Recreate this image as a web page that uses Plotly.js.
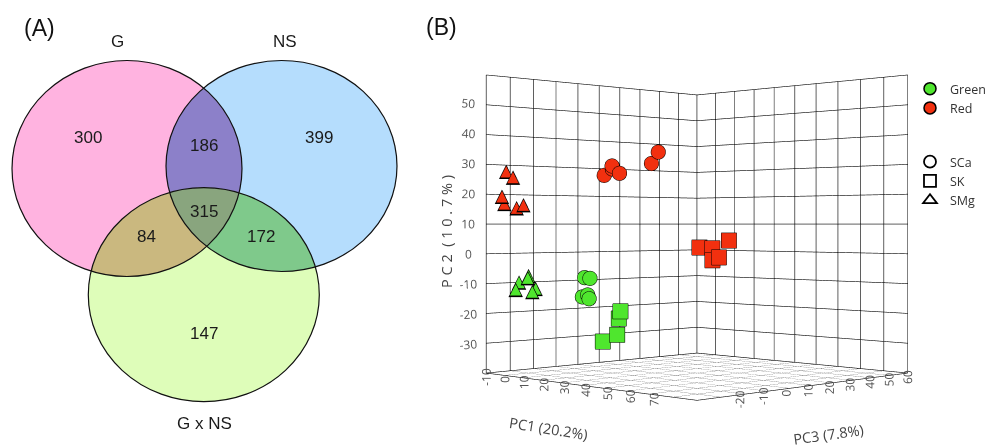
<!DOCTYPE html>
<html><head><meta charset="utf-8">
<script src="https://cdn.plot.ly/plotly-3.0.1.min.js"></script>
<style>
html,body{margin:0;padding:0;overflow:hidden;background:#fff;width:987px;height:447px;}
#wrap{position:absolute;left:0;width:987px;}
</style>
</head><body><div id="wrap"></div>
<script>
// ---------------- DATA ----------------
// Venn diagram (A)
const vennSetNames = ['G', 'NS', 'G x NS'];
const vennRegionMasks = [[1,0,0],[0,1,0],[0,0,1],[1,1,0],[1,0,1],[0,1,1],[1,1,1]];
const vennCounts = [300, 399, 147, 186, 84, 172, 315];

// PCA scores (B): PC1, PC2, PC3 for each colour x salt group
const greenSCa_pc1 = [19.0, 22.8, 16.7, 20.5, 22.4];
const greenSCa_pc2 = [-7.1, -7.2, -13.4, -12.6, -13.7];
const greenSCa_pc3 = [-20, -21, -19, -20, -21];
const greenSK_pc1 = [36.2, 34.3, 34.7, 29.0];
const greenSK_pc2 = [-17.1, -19.5, -24.5, -26.9];
const greenSK_pc3 = [-20, -19, -20, -21];
const greenSMg_pc1 = [-8.7, -4.9, -4.0, -9.2, -1.6, -1.1];
const greenSMg_pc2 = [-9.4, -7.2, -7.8, -11.8, -12.3, -11.3];
const greenSMg_pc3 = [-25, -24, -25, -26, -25, -24];
const redSCa_pc1 = [22.8, 25.6, 26.6, 31.3, 45.0, 47.0];
const redSCa_pc2 = [25.7, 27.7, 28.6, 26.1, 28.8, 32.3];
const redSCa_pc3 = [-15, -14, -15, -16, -15, -14];
const redSK_pc1 = [51.0, 55.7, 56.7, 60.5, 63.8];
const redSK_pc2 = [2.7, 2.5, -1.2, -0.2, 5.0];
const redSK_pc3 = [0, 1, 0, -1, 0];
const redSMg_pc1 = [-15.7, -13.3, -16.7, -16.7, -10.0, -7.6];
const redSMg_pc2 = [27.6, 25.6, 19.2, 16.8, 15.3, 16.3];
const redSMg_pc3 = [-25, -24, -26, -25, -25, -24];

const colourNames = ['Green', 'Red'];
const saltNames = ['SCa', 'SK', 'SMg'];
const pc1Ticks = [-20, -10, 0, 10, 20, 30, 40, 50, 60, 70, 80];
const pc3Ticks = [-30, -20, -10, 0, 10, 20, 30, 40, 50, 60, 70];
const pc2Ticks = [-40, -30, -20, -10, 0, 10, 20, 30, 40, 50, 60];
const axisTitles = ['PC1 (20.2%)', 'P C 2  ( 1 0 . 7 % )', 'PC3 (7.8%)'];

// ---------------- STYLE / GEOMETRY ----------------
const W = 987, VIEW_H = 1128, BOX_CY = 224;
const TOP = VIEW_H / 2 - BOX_CY;
const H = VIEW_H;
const wrap = document.getElementById('wrap');
wrap.style.top = (-TOP) + 'px';
wrap.style.height = H + 'px';
const px = u => u / W;
const py = v => 1 - (v + TOP) / H;

const GREEN = '#4FE62E', RED = '#F2300F';
const ellipses = [
  {cx: 127, cy: 168.5, rx: 115, ry: 108},
  {cx: 281.5, cy: 166, rx: 115.5, ry: 105.5},
  {cx: 203.8, cy: 294.7, rx: 115.5, ry: 107}
];
const regionFill = ['#FFB3E0', '#B5DDFD', '#DEFDB9', '#8C80C9', '#CAB87F', '#7FC98B', '#89A57E'];
const regionLabelPos = [[88,138],[319,138],[204,333],[204,146],[146,236],[261,236],[204,211]];
const setLabelPos = [[117,42],[285,42],[204,423]];
const axisTitlePos = [[548, 428, 9], [446, 232, -90], [828, 434, -8]];

function inside(e, x, y) {
  const dx = (x - e.cx) / e.rx, dy = (y - e.cy) / e.ry;
  return dx * dx + dy * dy < 1;
}
function regionPath(mask, ref) {
  const pts = [];
  const N = 1440;
  for (let i = 0; i < 3; i++) {
    const e = ellipses[i];
    for (let k = 0; k < N; k++) {
      const t = 2 * Math.PI * k / N;
      const x = e.cx + e.rx * Math.cos(t), y = e.cy + e.ry * Math.sin(t);
      let ok = true;
      for (let j = 0; j < 3; j++) {
        if (j === i) continue;
        if (inside(ellipses[j], x, y) !== !!mask[j]) { ok = false; break; }
      }
      if (ok) pts.push([x, y]);
    }
  }
  pts.sort((a, b) => Math.atan2(a[1]-ref[1], a[0]-ref[0]) - Math.atan2(b[1]-ref[1], b[0]-ref[0]));
  return 'M' + pts.map(p => p[0].toFixed(2) + ',' + p[1].toFixed(2)).join('L') + 'Z';
}

const shapes = [];
vennRegionMasks.forEach((m, r) => {
  shapes.push({type: 'path', xref: 'x', yref: 'y', path: regionPath(m, regionLabelPos[r]),
    fillcolor: regionFill[r], line: {width: 0}, layer: 'above'});
});
ellipses.forEach(e => {
  shapes.push({type: 'circle', xref: 'x', yref: 'y', x0: e.cx - e.rx, x1: e.cx + e.rx,
    y0: e.cy - e.ry, y1: e.cy + e.ry, line: {color: '#111', width: 1.2},
    fillcolor: 'rgba(0,0,0,0)', layer: 'above'});
});

const annotations = [];
vennCounts.forEach((c, r) => {
  annotations.push({xref: 'x', yref: 'y', x: regionLabelPos[r][0], y: regionLabelPos[r][1],
    xanchor: 'center', yanchor: 'middle',
    text: String(c), showarrow: false, font: {family: 'Liberation Sans', size: 17, color: '#1a1a1a'}});
});
vennSetNames.forEach((s, i) => {
  annotations.push({xref: 'x', yref: 'y', x: setLabelPos[i][0], y: setLabelPos[i][1],
    xanchor: 'center', yanchor: 'middle',
    text: s, showarrow: false, font: {family: 'Liberation Sans', size: 17, color: '#1a1a1a'}});
});
annotations.push({xref: 'paper', yref: 'paper', x: px(39), y: py(28), xanchor: 'center', yanchor: 'middle',
  text: '(A)', showarrow: false, font: {family: 'Liberation Sans', size: 23, color: '#111'}});
annotations.push({xref: 'paper', yref: 'paper', x: px(441), y: py(27), xanchor: 'center', yanchor: 'middle',
  text: '(B)', showarrow: false, font: {family: 'Liberation Sans', size: 23, color: '#111'}});
axisTitles.forEach((t, i) => {
  annotations.push({xref: 'paper', yref: 'paper', x: px(axisTitlePos[i][0]), y: py(axisTitlePos[i][1]),
    xanchor: 'center', yanchor: 'middle', textangle: axisTitlePos[i][2],
    text: t, showarrow: false, font: {family: 'Open Sans', size: 14.5, color: '#444'}});
});

// ---------------- TRACES ----------------
// Scene axes hold negated scores (x = -PC1, y = -PC3, z = -PC2 on a reversed axis) so that, with this
// camera, every axis reads in the reference's direction and the gridded plane is the floor.
// Tick labels show the original PC values.
const neg = a => a.map(v => -v);
const traces = [];
function markerTrace(pc1, pc2, pc3, symbol, colour, size) {
  return {type: 'scatter3d', mode: 'markers', x: neg(pc1), y: neg(pc3), z: neg(pc2), showlegend: false, hoverinfo: 'skip',
    marker: {symbol: symbol, size: size, color: colour, opacity: 1, line: {color: '#000', width: 1.5}}};
}
function triTrace(pc1, pc2, pc3, colour, size) {
  return {type: 'scatter3d', mode: 'text', x: neg(pc1), y: neg(pc3), z: neg(pc2), text: pc1.map(() => '\u25B2'),
    textposition: 'middle center', showlegend: false, hoverinfo: 'skip',
    textfont: {family: 'DejaVu Sans', size: size, color: colour}};
}
traces.push(markerTrace(greenSCa_pc1, greenSCa_pc2, greenSCa_pc3, 'circle', GREEN, 8.5));
traces.push(markerTrace(redSCa_pc1, redSCa_pc2, redSCa_pc3, 'circle', RED, 8.5));
traces.push(markerTrace(greenSK_pc1, greenSK_pc2, greenSK_pc3, 'square', GREEN, 8));
traces.push(markerTrace(redSK_pc1, redSK_pc2, redSK_pc3, 'square', RED, 8));
traces.push(triTrace(greenSMg_pc1, greenSMg_pc2, greenSMg_pc3, '#000', 19));
traces.push(triTrace(redSMg_pc1, redSMg_pc2, redSMg_pc3, '#000', 19));
traces.push(triTrace(greenSMg_pc1, greenSMg_pc2, greenSMg_pc3, GREEN, 15));
traces.push(triTrace(redSMg_pc1, redSMg_pc2, redSMg_pc3, RED, 15));

// legend-only entries
const legendColours = [GREEN, RED];
colourNames.forEach((n, i) => traces.push({type: 'scatter', x: [null], y: [null], mode: 'markers', name: n,
  legend: 'legend', xaxis: 'x', yaxis: 'y', hoverinfo: 'skip',
  marker: {symbol: 'circle', size: 12, color: legendColours[i], line: {color: '#000', width: 1.5}}}));
const legendSymbols = ['circle-open', 'square-open', 'triangle-up-open'];
saltNames.forEach((n, i) => traces.push({type: 'scatter', x: [null], y: [null], mode: 'markers', name: n,
  legend: 'legend2', xaxis: 'x', yaxis: 'y', hoverinfo: 'skip',
  marker: {symbol: legendSymbols[i], size: 12, color: '#000', line: {color: '#000', width: 1.8}}}));

function sceneAxis(ticks, reversed, angle) {
  const n = ticks.length;
  const vals = neg(ticks);               // [-min ... -max], descending
  const lo = vals[n - 1], hi = vals[0];
  const ax = {
    title: {text: ''},
    range: reversed ? [hi, lo] : [lo, hi], autorange: false,
    tickmode: 'array', tickvals: vals,
    ticktext: ticks.map((t, i) => (i === 0 || i === n - 1) ? '' : String(t)),
    tickfont: {family: 'Open Sans', size: 12, color: '#555'},
    showgrid: true, gridcolor: '#000', gridwidth: 1.2,
    showline: true, linecolor: '#000', linewidth: 1.2,
    zeroline: false, showbackground: false, showspikes: false, ticks: ''
  };
  if (angle !== undefined) ax.tickangle = angle;
  return ax;
}

const legendFont = {family: 'Open Sans', size: 12.5, color: '#333'};
const layout = {
  width: W, height: H, margin: {l: 0, r: 0, t: 0, b: 0, autoexpand: false},
  paper_bgcolor: '#fff', plot_bgcolor: 'rgba(0,0,0,0)',
  hovermode: false,
  xaxis: {domain: [0, px(400)], range: [0, 400], visible: false, fixedrange: true},
  yaxis: {domain: [py(447), py(0)], range: [447, 0], visible: false, fixedrange: true},
  shapes: shapes, annotations: annotations,
  legend: {x: px(910), y: py(74), xanchor: 'left', yanchor: 'top', bgcolor: 'rgba(0,0,0,0)',
    font: legendFont, itemwidth: 30},
  legend2: {x: px(910), y: py(147), xanchor: 'left', yanchor: 'top', bgcolor: 'rgba(0,0,0,0)',
    font: legendFont, itemwidth: 30},
  scene: {
    domain: {x: [px(417), px(977)], y: [0, 1]},
    aspectmode: 'cube',
    bgcolor: 'rgba(0,0,0,0)',
    camera: {eye: {x: -3.23, y: 3.23, z: 0}, center: {x: 0, y: 0, z: 0}, up: {x: 0, y: 0, z: -1},
      projection: {type: 'perspective'}},
    xaxis: sceneAxis(pc1Ticks, false, -90),
    yaxis: sceneAxis(pc3Ticks, false, -90),
    zaxis: sceneAxis(pc2Ticks, true)
  }
};

Plotly.newPlot('wrap', traces, layout, {displayModeBar: false, responsive: false});
</script>
</body></html>
